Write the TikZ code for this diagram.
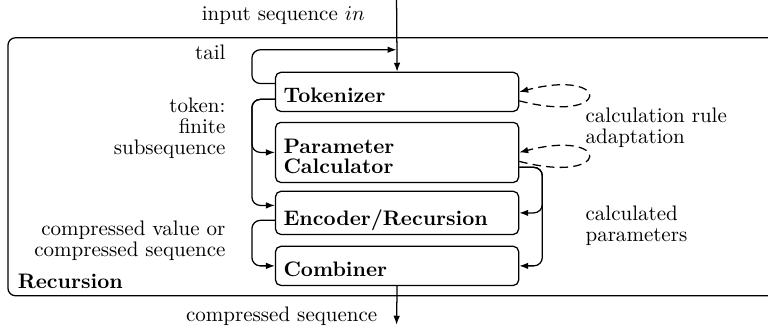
\documentclass[tikz,border=0pt]{standalone}
\usepackage{tikz}
\usetikzlibrary{arrows.meta}

\begin{document}
\begin{tikzpicture}[>={Latex[length=1.5mm,width=1.1mm]},semithick,
  blk/.style={draw,rounded corners=2.5pt,anchor=north west,align=left,
    text width=3.80cm,inner xsep=3.8pt,inner ysep=0pt,text depth=4.2pt,
    font=\bfseries\fontsize{10pt}{9.6pt}\selectfont},
  lbl/.style={font=\fontsize{10pt}{9.8pt}\selectfont},
  conn/.style={->,rounded corners=4pt},
  adapt/.style={->,dash pattern=on 4pt off 2.5pt}]
  \useasboundingbox (0,0) rectangle (12.85,5.50);
  \clip (0,0) rectangle (12.85,5.50);
  % recursion frame
  \draw[rounded corners=3.5pt] (0.134,0.552) rectangle (13.3,4.868);
  \node[anchor=base west,font=\bfseries] (rec) at (0.17,0.68) {Recursion};
  % blocks
  \node[blk,text height=14.4pt] (tok) at (4.60,4.30) {Tokenizer};
  \node[blk,text height=14.8pt,text depth=13.8pt] (par) at (4.60,3.463) {Parameter\\Calculator};
  \node[blk,text height=16.3pt] (enc) at (4.60,2.309) {Encoder/Recursion};
  \node[blk,text height=14.4pt] (comb) at (4.60,1.389) {Combiner};
  % labels (base = last line)
  \node[lbl,anchor=base east] (inlbl) at (6.23,5.16) {input sequence $in$};
  \node[lbl,anchor=base east] (outlbl) at (6.44,0.125) {compressed sequence};
  \node[lbl,anchor=base east] (tail) at (3.90,4.51) {tail};
  \node[lbl,anchor=base east,align=right] (token) at (3.90,2.923) {token:\\finite\\subsequence};
  \node[lbl,anchor=base east,align=right] (cval) at (3.90,1.21) {compressed value or\\compressed sequence};
  \node[lbl,anchor=base west,align=left] (rule) at (9.67,3.107) {calculation rule\\adaptation};
  \node[lbl,anchor=base west,align=left] (cpar) at (9.67,1.46) {calculated\\parameters};
  % in and out
  \coordinate (src) at (6.635,5.50);
  \coordinate (sink) at (6.635,0.067);
  \coordinate (tailend) at (6.635,4.668);
  \draw[->] (src) -- (tok.north);
  \draw[->] (comb.south) -- (sink);
  % left side
  \draw[conn] ([yshift=0.14cm]tok.west) -- ++(-0.385,0) |- (tailend);
  \draw[conn] ([yshift=-0.125cm]tok.west) -- ++(-0.385,0) |- (par.west);
  \draw[conn] ([yshift=-0.125cm]tok.west) -- ++(-0.385,0) |- ([yshift=0.125cm]enc.west);
  \draw[conn] ([yshift=-0.125cm]enc.west) -- ++(-0.385,0) |- (comb.west);
  % right side
  \draw[conn] ([yshift=-0.25cm]par.east) -- ++(0.385,0) |- (enc.east);
  \draw[conn] ([yshift=-0.25cm]par.east) -- ++(0.385,0) |- (comb.east);
  \draw[adapt] ([yshift=-0.15cm]tok.east) .. controls +(1.55,-0.4) and +(1.55,0.4) .. (tok.east);
  \draw[adapt] ([yshift=-0.15cm]par.east) .. controls +(1.55,-0.4) and +(1.55,0.4) .. (par.east);
\end{tikzpicture}
\end{document}
